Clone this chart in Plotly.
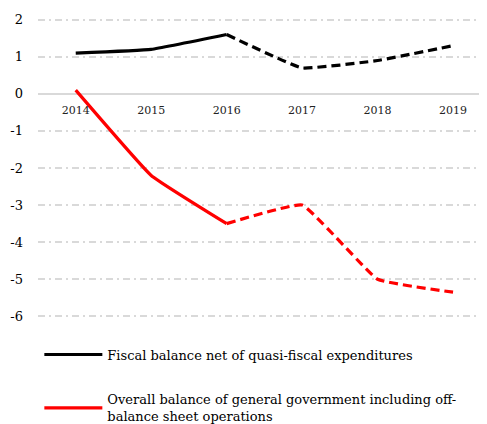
import plotly.graph_objects as go

years = ["2014", "2015", "2016", "2017", "2018", "2019"]
fiscal_net = [1.1, 1.2, 1.6, 0.7, 0.9, 1.3]
overall_gg = [0.1, -2.2, -3.5, -3.0, -5.0, -5.35]
split = 2  # index of 2016: solid up to here, dashed after
ytick_vals = [2, 1, 0, -1, -2, -3, -4, -5, -6]
ytick_text = ["2", "1", "0", "-1", "-2", "-3", "-4", "-5", "-6"]

name_black = "Fiscal balance net of quasi-fiscal expenditures"
name_red = "Overall balance of general government including off-<br>balance sheet operations"

FONT = "DejaVu Serif"
fig = go.Figure()

def add_series(vals, color, name, group):
    fig.add_trace(go.Scatter(x=years[:split + 1], y=vals[:split + 1], mode="lines",
                             line=dict(color=color, width=3.2, shape="spline", smoothing=0.3),
                             name=name, legendgroup=group, showlegend=True))
    fig.add_trace(go.Scatter(x=years[split:], y=vals[split:], mode="lines",
                             line=dict(color=color, width=3.2, dash="9px,5px", shape="spline", smoothing=0.3),
                             name=name, legendgroup=group, showlegend=False))

add_series(fiscal_net, "#000000", name_black, "a")
add_series(overall_gg, "#ff0000", name_red, "b")

# page has an 8px body margin; figure sized to fit the 487x424 window
W, H = 479, 416
ymin, ymax = -6.1, 2.1
fig.update_layout(
    width=W, height=H,
    margin=dict(l=30, r=0, t=8, b=104),
    plot_bgcolor="white", paper_bgcolor="white",
    font=dict(family=FONT, color="#000000", size=13),
    showlegend=True,
    legend=dict(orientation="v", x=0.003, xanchor="left", xref="paper",
                y=0.203, yanchor="top", yref="container",
                font=dict(family=FONT, size=13, color="#000000"),
                traceorder="grouped", tracegroupgap=25, itemwidth=58,
                bgcolor="rgba(0,0,0,0)"),
    xaxis=dict(type="category", range=[-0.5, 5.45], anchor="free",
               position=(0 - ymin) / (ymax - ymin), automargin=False,
               showgrid=False, showline=False, zeroline=False, ticks="",
               ticklabelstandoff=8,
               tickfont=dict(family=FONT, size=11, color="#222222")),
    yaxis=dict(range=[ymin, ymax], tickvals=ytick_vals, ticktext=ytick_text, automargin=False,
               showgrid=True, gridcolor="#d9d9d9", gridwidth=1.5, griddash="7px,4px,2px,4px",
               zeroline=True, zerolinecolor="#d9d9d9", zerolinewidth=2,
               showline=False, ticks="", ticklabelstandoff=14,
               tickfont=dict(family=FONT, size=13, color="#000000")),
)

fig.write_html("out.html")
